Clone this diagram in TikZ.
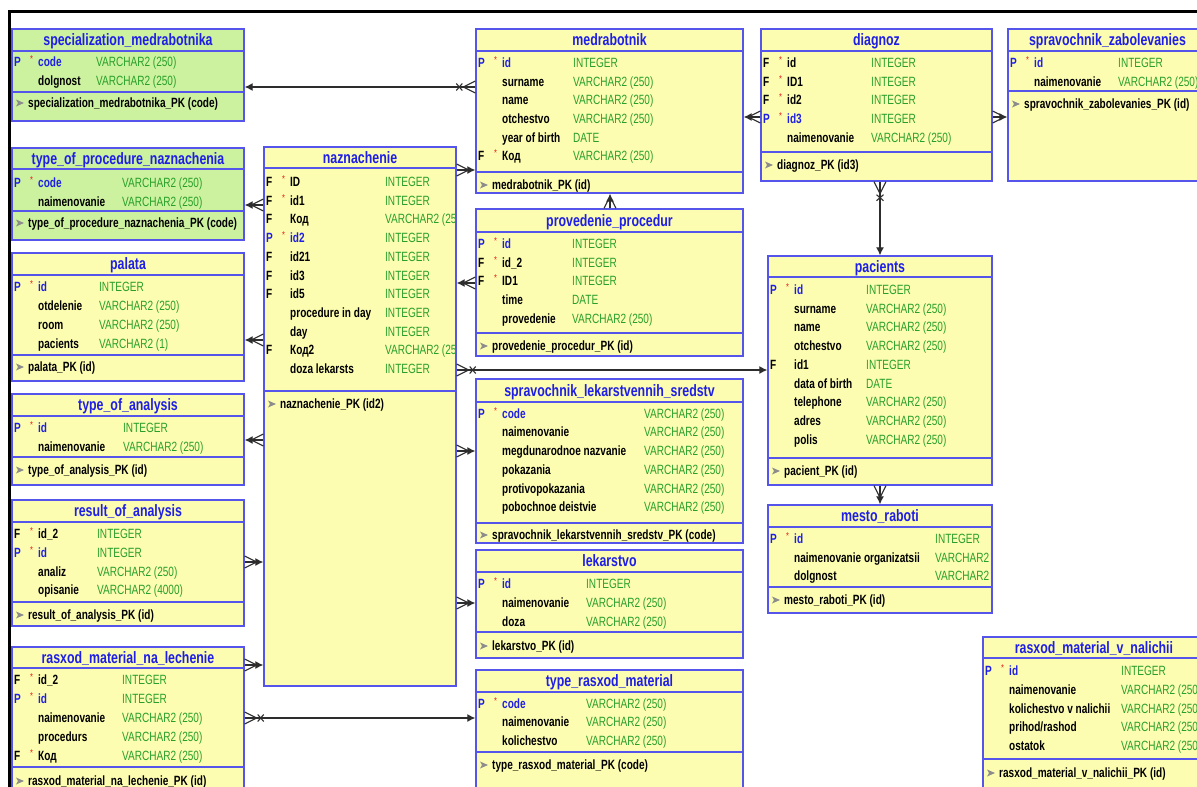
\documentclass[tikz,border=0pt]{standalone}
\usepackage{fontspec}
\setmainfont{Liberation Sans}[FakeStretch=0.75]
\usetikzlibrary{arrows.meta,fit}
\definecolor{boxblue}{RGB}{85,85,235}
\definecolor{pkblue}{RGB}{30,30,230}
\definecolor{typegreen}{RGB}{40,160,40}
\definecolor{yfill}{RGB}{253,253,178}
\definecolor{gfill}{RGB}{204,242,160}
\definecolor{starred}{RGB}{230,30,30}
\definecolor{connc}{RGB}{45,45,45}
\newcounter{fc}
\gdef\erbx{0}\gdef\ertx{0}
\newcommand\ertable[9]{%
 \node[tbox,fill=#2,fit={(#3,#4) (#5,#6)}] (#1) {};
 \draw[tline] (#1.west |- 0,#7) -- (#1.east |- 0,#7);
 \draw[tline] (#1.west |- 0,#8) -- (#1.east |- 0,#8);
 \node[ttl] (#1-t) at ({(#3+#5)/2},{(#4+#7)/2}) {#9};
 \gdef\erbx{#3}}
\newcommand\fld[5]{%
 \stepcounter{fc}%
 \if P#2\node[flg,text=pkblue] (fa\arabic{fc}) at (\erbx+2,#1) {P};\fi
 \if F#2\node[flg] (fa\arabic{fc}) at (\erbx+2,#1) {F};\fi
 \if 1#3\node[str] (fs\arabic{fc}) at (\erbx+18,#1-2.5) {*};\fi
 \if P#2\node[fnm,text=pkblue] (fn\arabic{fc}) at (\erbx+26,#1) {#4};\else\node[fnm] (fn\arabic{fc}) at (\erbx+26,#1) {#4};\fi
 \node[fty] (ft\arabic{fc}) at (\ertx,#1) {#5};}
\newcommand\pkrow[2]{%
 \stepcounter{fc}%
 \fill[pkicon] (\erbx+4,#1-3.5) -- (\erbx+12,#1) -- (\erbx+4,#1+3.5) -- (\erbx+6,#1) -- cycle;
 \node[fnm] (pk\arabic{fc}) at (\erbx+16,#1) {#2};}
\tikzset{
 tbox/.style={draw=boxblue,line width=1.4pt,inner sep=0pt},
 tline/.style={draw=boxblue,line width=1.2pt},
 ttl/.style={font=\fontsize{16.5}{18}\selectfont\bfseries,text=pkblue,inner sep=0pt,text height=11.8pt,text depth=0pt},
 fnm/.style={font=\fontsize{13.4}{15}\selectfont\bfseries,anchor=west,inner sep=0pt,text height=9.6pt,text depth=0pt},
 fty/.style={font=\fontsize{13.4}{15}\selectfont,text=typegreen,anchor=west,inner sep=0pt,text height=9.6pt,text depth=0pt},
 flg/.style={font=\fontsize{13.4}{15}\selectfont\bfseries,anchor=west,inner sep=0pt,text height=9.6pt,text depth=0pt},
 str/.style={font=\fontsize{10}{11}\selectfont,text=starred,anchor=west,inner sep=0pt},
 pkicon/.style={fill=black!45},
 conn/.style={draw=connc,line width=1.1pt},
 arr/.style={conn,-{Latex[length=8pt,width=8pt]}},
 crow/.pic={\draw[conn] (0,-6) -- (12,0) -- (0,6);},
 crowx/.pic={\draw[conn] (0,-6) -- (12,0) -- (0,6); \draw[conn] (13,-3.5) -- (19,3.5) (13,3.5) -- (19,-3.5);}
}
\begin{document}
\begin{tikzpicture}[x=1pt,y=-1pt]
\clip (0,0) rectangle (1197,787);
\fill[white] (0,0) rectangle (1197,787);
\draw[line width=3pt] (9,790) -- (9,11) -- (1200,11);

% specialization_medrabotnika
\ertable{spec}{gfill}{12}{29}{244}{121}{51}{92}{specialization\_medrabotnika}
\def\ertx{96}
\fld{62}{P}{1}{code}{VARCHAR2 (250)}
\fld{81}{N}{0}{dolgnost}{VARCHAR2 (250)}
\pkrow{103}{specialization\_medrabotnika\_PK (code)}

% type_of_procedure_naznachenia
\ertable{tproc}{gfill}{12}{148}{244}{240}{169}{211}{type\_of\_procedure\_naznachenia}
\def\ertx{122}
\fld{183}{P}{1}{code}{VARCHAR2 (250)}
\fld{202}{N}{0}{naimenovanie}{VARCHAR2 (250)}
\pkrow{223}{type\_of\_procedure\_naznachenia\_PK (code)}

% palata
\ertable{palata}{yfill}{12}{253}{244}{381}{275}{355}{palata}
\def\ertx{99}
\fld{287}{P}{1}{id}{INTEGER}
\fld{306}{N}{0}{otdelenie}{VARCHAR2 (250)}
\fld{325}{N}{0}{room}{VARCHAR2 (250)}
\fld{344}{N}{0}{pacients}{VARCHAR2 (1)}
\pkrow{367}{palata\_PK (id)}

% type_of_analysis
\ertable{tanal}{yfill}{12}{394}{244}{485}{416}{457}{type\_of\_analysis}
\def\ertx{123}
\fld{428}{P}{1}{id}{INTEGER}
\fld{447}{N}{0}{naimenovanie}{VARCHAR2 (250)}
\pkrow{470}{type\_of\_analysis\_PK (id)}

% result_of_analysis
\ertable{result}{yfill}{12}{500}{244}{626}{522}{602}{result\_of\_analysis}
\def\ertx{97}
\fld{534}{F}{1}{id\_2}{INTEGER}
\fld{553}{P}{1}{id}{INTEGER}
\fld{572}{N}{0}{analiz}{VARCHAR2 (250)}
\fld{590}{N}{0}{opisanie}{VARCHAR2 (4000)}
\pkrow{615}{result\_of\_analysis\_PK (id)}

% rasxod_material_na_lechenie
\ertable{rasxL}{yfill}{12}{647}{244}{800}{668}{767}{rasxod\_material\_na\_lechenie}
\def\ertx{122}
\fld{680}{F}{1}{id\_2}{INTEGER}
\fld{699}{P}{1}{id}{INTEGER}
\fld{718}{N}{0}{naimenovanie}{VARCHAR2 (250)}
\fld{737}{N}{0}{procedurs}{VARCHAR2 (250)}
\fld{756}{F}{1}{Код}{VARCHAR2 (250)}
\pkrow{781}{rasxod\_material\_na\_lechenie\_PK (id)}

% naznachenie
\ertable{nazn}{yfill}{264}{147}{456}{686}{168}{391}{naznachenie}
\begin{scope}
\clip (264,147) rectangle (455,686);
\def\ertx{385}
\fld{182}{F}{1}{ID}{INTEGER}
\fld{201}{F}{1}{id1}{INTEGER}
\fld{219}{F}{0}{Код}{VARCHAR2 (250)}
\fld{238}{P}{1}{id2}{INTEGER}
\fld{257}{F}{0}{id21}{INTEGER}
\fld{276}{F}{0}{id3}{INTEGER}
\fld{294}{F}{0}{id5}{INTEGER}
\fld{313}{N}{0}{procedure in day}{INTEGER}
\fld{332}{N}{0}{day}{INTEGER}
\fld{350}{F}{0}{Код2}{VARCHAR2 (250)}
\fld{369}{N}{0}{doza lekarsts}{INTEGER}
\pkrow{404}{naznachenie\_PK (id2)}
\end{scope}

% medrabotnik
\ertable{med}{yfill}{476}{29}{743}{193}{51}{172}{medrabotnik}
\def\ertx{573}
\fld{63}{P}{1}{id}{INTEGER}
\fld{82}{N}{0}{surname}{VARCHAR2 (250)}
\fld{100}{N}{0}{name}{VARCHAR2 (250)}
\fld{119}{N}{0}{otchestvo}{VARCHAR2 (250)}
\fld{138}{N}{0}{year of birth}{DATE}
\fld{156}{F}{1}{Код}{VARCHAR2 (250)}
\pkrow{185}{medrabotnik\_PK (id)}

% provedenie_procedur
\ertable{proved}{yfill}{476}{209}{743}{356}{232}{333}{provedenie\_procedur}
\def\ertx{572}
\fld{244}{P}{1}{id}{INTEGER}
\fld{263}{F}{1}{id\_2}{INTEGER}
\fld{281}{F}{1}{ID1}{INTEGER}
\fld{300}{N}{0}{time}{DATE}
\fld{319}{N}{0}{provedenie}{VARCHAR2 (250)}
\pkrow{346}{provedenie\_procedur\_PK (id)}

% spravochnik_lekarstvennih_sredstv
\ertable{sprlek}{yfill}{476}{379}{743}{543}{402}{523}{spravochnik\_lekarstvennih\_sredstv}
\def\ertx{644}
\fld{414}{P}{1}{code}{VARCHAR2 (250)}
\fld{432}{N}{0}{naimenovanie}{VARCHAR2 (250)}
\fld{451}{N}{0}{megdunarodnoe nazvanie}{VARCHAR2 (250)}
\fld{470}{N}{0}{pokazania}{VARCHAR2 (250)}
\fld{489}{N}{0}{protivopokazania}{VARCHAR2 (250)}
\fld{507}{N}{0}{pobochnoe deistvie}{VARCHAR2 (250)}
\pkrow{535}{spravochnik\_lekarstvennih\_sredstv\_PK (code)}

% lekarstvo
\ertable{lek}{yfill}{476}{550}{743}{658}{572}{632}{lekarstvo}
\def\ertx{586}
\fld{584}{P}{1}{id}{INTEGER}
\fld{603}{N}{0}{naimenovanie}{VARCHAR2 (250)}
\fld{622}{N}{0}{doza}{VARCHAR2 (250)}
\pkrow{646}{lekarstvo\_PK (id)}

% type_rasxod_material
\ertable{trasx}{yfill}{476}{670}{743}{800}{692}{752}{type\_rasxod\_material}
\def\ertx{586}
\fld{704}{P}{1}{code}{VARCHAR2 (250)}
\fld{722}{N}{0}{naimenovanie}{VARCHAR2 (250)}
\fld{741}{N}{0}{kolichestvo}{VARCHAR2 (250)}
\pkrow{765}{type\_rasxod\_material\_PK (code)}

% diagnoz
\ertable{diag}{yfill}{761}{29}{992}{181}{51}{152}{diagnoz}
\def\ertx{871}
\fld{63}{F}{1}{id}{INTEGER}
\fld{82}{F}{1}{ID1}{INTEGER}
\fld{100}{F}{1}{id2}{INTEGER}
\fld{119}{P}{1}{id3}{INTEGER}
\fld{138}{N}{0}{naimenovanie}{VARCHAR2 (250)}
\pkrow{165}{diagnoz\_PK (id3)}

% spravochnik_zabolevanies
\ertable{szab}{yfill}{1008}{29}{1207}{181}{51}{91}{spravochnik\_zabolevanies}
\def\ertx{1118}
\fld{63}{P}{1}{id}{INTEGER}
\fld{82}{N}{0}{naimenovanie}{VARCHAR2 (250)}
\pkrow{104}{spravochnik\_zabolevanies\_PK (id)}

% pacients
\ertable{pac}{yfill}{768}{256}{992}{485}{277}{458}{pacients}
\def\ertx{866}
\fld{290}{P}{1}{id}{INTEGER}
\fld{309}{N}{0}{surname}{VARCHAR2 (250)}
\fld{327}{N}{0}{name}{VARCHAR2 (250)}
\fld{346}{N}{0}{otchestvo}{VARCHAR2 (250)}
\fld{365}{F}{0}{id1}{INTEGER}
\fld{384}{N}{0}{data of birth}{DATE}
\fld{402}{N}{0}{telephone}{VARCHAR2 (250)}
\fld{421}{N}{0}{adres}{VARCHAR2 (250)}
\fld{440}{N}{0}{polis}{VARCHAR2 (250)}
\pkrow{471}{pacient\_PK (id)}

% mesto_raboti
\ertable{mesto}{yfill}{768}{505}{992}{613}{527}{587}{mesto\_raboti}
\begin{scope}
\clip (768,505) rectangle (991,613);
\def\ertx{935}
\fld{539}{P}{1}{id}{INTEGER}
\fld{558}{N}{0}{naimenovanie organizatsii}{VARCHAR2 (250)}
\fld{576}{N}{0}{dolgnost}{VARCHAR2 (250)}
\pkrow{600}{mesto\_raboti\_PK (id)}
\end{scope}

% rasxod_material_v_nalichii
\ertable{rvn}{yfill}{983}{637}{1205}{800}{658}{759}{rasxod\_material\_v\_nalichii}
\def\ertx{1121}
\fld{671}{P}{1}{id}{INTEGER}
\fld{690}{N}{0}{naimenovanie}{VARCHAR2 (250)}
\fld{709}{N}{0}{kolichestvo v nalichii}{VARCHAR2 (250)}
\fld{727}{N}{0}{prihod/rashod}{VARCHAR2 (250)}
\fld{746}{N}{0}{ostatok}{VARCHAR2 (250)}
\pkrow{773}{rasxod\_material\_v\_nalichii\_PK (id)}

% ---------- connectors ----------
\draw[arr] (med.west |- 0,87) -- (spec.east |- 0,87);
\pic[rotate=180] at (med.west |- 0,87) {crowx};

\draw[arr] (nazn.east |- 0,170) -- (med.west |- 0,170);
\pic at (nazn.east |- 0,170) {crow};

\draw[arr] (nazn.west |- 0,205) -- (tproc.east |- 0,205);
\pic[rotate=180] at (nazn.west |- 0,205) {crow};

\draw[arr] (nazn.west |- 0,340) -- (palata.east |- 0,340);
\pic[rotate=180] at (nazn.west |- 0,340) {crow};

\draw[arr] (nazn.west |- 0,440) -- (tanal.east |- 0,440);
\pic[rotate=180] at (nazn.west |- 0,440) {crow};

\draw[arr] (result.east |- 0,562) -- (nazn.west |- 0,562);
\pic at (result.east |- 0,562) {crow};

\draw[arr] (rasxL.east |- 0,665) -- (nazn.west |- 0,665);
\pic at (rasxL.east |- 0,665) {crow};

\draw[arr] (rasxL.east |- 0,718) -- (trasx.west |- 0,718);
\pic at (rasxL.east |- 0,718) {crowx};

\draw[arr] (proved.west |- 0,283) -- (nazn.east |- 0,283);
\pic[rotate=180] at (proved.west |- 0,283) {crow};

\draw[arr] (nazn.east |- 0,370) -- (pac.west |- 0,370);
\pic at (nazn.east |- 0,370) {crowx};

\draw[arr] (nazn.east |- 0,451) -- (sprlek.west |- 0,451);
\pic at (nazn.east |- 0,451) {crow};

\draw[arr] (nazn.east |- 0,603) -- (lek.west |- 0,603);
\pic at (nazn.east |- 0,603) {crow};

\draw[arr] (proved.north -| 610,0) -- (med.south -| 610,0);
\pic[rotate=90] at (proved.north -| 610,0) {crow};

\draw[arr] (diag.west |- 0,117) -- (med.east |- 0,117);
\pic[rotate=180] at (diag.west |- 0,117) {crow};

\draw[arr] (diag.east |- 0,117) -- (szab.west |- 0,117);
\pic at (diag.east |- 0,117) {crow};

\draw[arr] (diag.south -| 880,0) -- (pac.north -| 880,0);
\pic[rotate=-90] at (diag.south -| 880,0) {crowx};

\draw[arr] (pac.south -| 880,0) -- (mesto.north -| 880,0);
\pic[rotate=-90] at (pac.south -| 880,0) {crow};
\end{tikzpicture}
\end{document}
